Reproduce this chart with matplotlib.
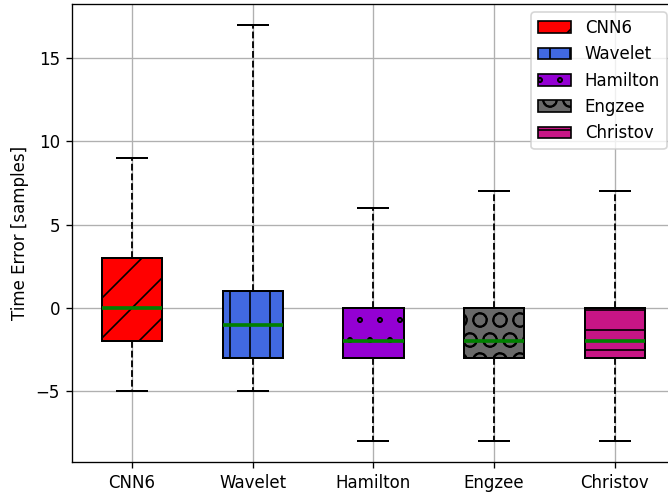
import matplotlib
matplotlib.use("Agg")
import matplotlib.pyplot as plt
import matplotlib.hatch as mhatch
from matplotlib.patches import Patch

methods = ["CNN6", "Wavelet", "Hamilton", "Engzee", "Christov"]
whisker_low = [-5, -5, -8, -8, -8]
q1 = [-2, -3, -3, -3, -3]
median = [0, -1, -2, -2, -2]
q3 = [3, 1, 0, 0, 0]
whisker_high = [9, 17, 6, 7, 7]

colors = ["red", "royalblue", "darkviolet", "dimgray", "mediumvioletred"]
hatches = ["/", "|", ".", "O", "-"]


# '.' hatch drawn as tiny open rings instead of filled dots
class SmallRings(mhatch.Circles):
    size = 0.1
    filled = False

    def __init__(self, hatch, density):
        self.num_rows = hatch.count('.') * density
        super().__init__(hatch, density)


mhatch._hatch_types = [SmallRings if t is mhatch.SmallFilledCircles else t
                       for t in mhatch._hatch_types]

plt.rcParams["font.size"] = 10

fig = plt.figure(figsize=(668 / 120, 497 / 120), dpi=120)
ax = fig.add_axes([0.1073, 0.0704, 0.9032, 0.9215])

stats = []
for name, lo, a, m, b, hi in zip(methods, whisker_low, q1, median, q3, whisker_high):
    stats.append(dict(label=name, whislo=lo, q1=a, med=m, q3=b, whishi=hi, fliers=[]))

bp = ax.bxp(stats, patch_artist=True, widths=0.5, showfliers=False,
            boxprops=dict(linewidth=1.2, edgecolor="black"),
            whiskerprops=dict(linestyle="--", linewidth=1.1, color="black"),
            capprops=dict(linewidth=1.2, color="black"),
            medianprops=dict(color="green", linewidth=2.2))

for box, c, h in zip(bp["boxes"], colors, hatches):
    box.set_facecolor(c)
    box.set_hatch(h)

ax.set_xlim(0.5, 5.5)
ax.grid(True, color="#b0b0b0", linewidth=0.8)
ax.set_axisbelow(True)
ax.set_ylabel("Time Error [samples]")

handles = [Patch(facecolor=c, edgecolor="black", hatch=h, label=n)
           for c, h, n in zip(colors, hatches, methods)]
ax.legend(handles=handles, loc="upper right")

fig.savefig("out.png", dpi=120)
